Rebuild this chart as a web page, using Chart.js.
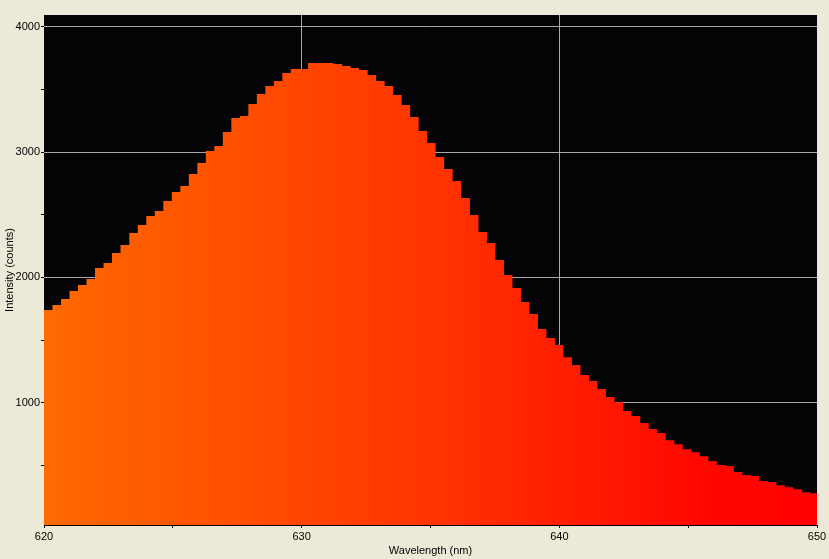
<!DOCTYPE html>
<html>
<head>
<meta charset="utf-8">
<script src="https://cdn.jsdelivr.net/npm/chart.js@4.4.1/dist/chart.umd.min.js"></script>
<style>
    html, body { margin: 0; padding: 0; background: #ece9d8; }
    canvas { display: block; }
</style>
</head>
<body>
<canvas id="spectrum" width="829" height="559"></canvas>
<script>
// Emission spectrum - bin left edges (nm) and counts per bin
const wavelengths = [
    620.00, 620.33, 620.66, 620.99, 621.32, 621.65, 621.98, 622.31, 622.64, 622.97,
    623.31, 623.64, 623.97, 624.30, 624.63, 624.96, 625.29, 625.62, 625.95, 626.28,
    626.61, 626.94, 627.27, 627.60, 627.93, 628.26, 628.59, 628.92, 629.25, 629.58,
    629.92, 630.25, 630.58, 630.91, 631.24, 631.57, 631.90, 632.23, 632.56, 632.89,
    633.22, 633.55, 633.88, 634.21, 634.54, 634.87, 635.20, 635.53, 635.86, 636.19,
    636.53, 636.86, 637.19, 637.52, 637.85, 638.18, 638.51, 638.84, 639.17, 639.50,
    639.83, 640.16, 640.49, 640.82, 641.15, 641.48, 641.81, 642.14, 642.47, 642.80,
    643.14, 643.47, 643.80, 644.13, 644.46, 644.79, 645.12, 645.45, 645.78, 646.11,
    646.44, 646.77, 647.10, 647.43, 647.76, 648.09, 648.42, 648.75, 649.08, 649.41,
    649.74
];
const lastBinEnd = 650.07;

const intensity = [
    1739, 1779, 1827, 1891, 1939, 1987, 2075, 2114, 2194, 2258,
    2354, 2418, 2489, 2529, 2609, 2681, 2729, 2825, 2912, 3008,
    3048, 3160, 3271, 3287, 3383, 3463, 3527, 3567, 3630, 3662,
    3662, 3710, 3710, 3710, 3702, 3686, 3670, 3654, 3614, 3567,
    3527, 3455, 3375, 3279, 3168, 3072, 2960, 2864, 2769, 2633,
    2497, 2362, 2274, 2138, 2019, 1915, 1803, 1708, 1588, 1516,
    1460, 1364, 1301, 1221, 1173, 1109, 1045, 1005, 934, 894,
    838, 790, 758, 702, 670, 630, 606, 574, 535, 503,
    495, 447, 423, 415, 375, 367, 343, 327, 311, 287,
    279
];

const xTicks = [620, 630, 640, 650];
const yTicks = [1000, 2000, 3000, 4000];

const FONT = { family: '"Liberation Sans", Arial, sans-serif', size: 11 };

// pontos do degrau: cada bin vai da sua borda esquerda ate a proxima
const points = wavelengths.map((w, i) => ({ x: w, y: intensity[i] }));
points.push({ x: lastBinEnd, y: intensity[intensity.length - 1] });

const plotBackground = {
    id: 'plotBackground',
    beforeDraw(chart) {
        const { ctx, chartArea: a } = chart;
        ctx.save();
        ctx.fillStyle = '#040306';
        ctx.fillRect(a.left, a.top, a.right - a.left, a.bottom - a.top);
        ctx.restore();
    }
};

function spectrumGradient(context) {
    const chart = context.chart;
    const a = chart.chartArea;
    if (!a) return '#ff4000';
    const g = chart.ctx.createLinearGradient(a.left, 0, a.right, 0);
    g.addColorStop(0, '#ff6a00');
    g.addColorStop(0.5, '#ff3400');
    g.addColorStop(0.85, '#ff0800');
    g.addColorStop(1, '#ff0000');
    return g;
}

new Chart(document.getElementById('spectrum'), {
    type: 'line',
    data: {
        datasets: [{
            data: points,
            stepped: 'before',
            fill: 'start',
            backgroundColor: spectrumGradient,
            borderWidth: 0,
            pointRadius: 0,
            tension: 0
        }]
    },
    options: {
        responsive: false,
        devicePixelRatio: 1,
        animation: false,
        layout: { padding: { top: 15, right: 12, left: 0, bottom: 0 } },
        plugins: {
            legend: { display: false },
            tooltip: { enabled: false }
        },
        scales: {
            x: {
                type: 'linear',
                min: 620,
                max: 650,
                afterFit: (s) => { s.height = 34; },
                afterBuildTicks: (s) => {
                    s.ticks = [620, 625, 630, 635, 640, 645, 650].map(v => ({ value: v }));
                },
                ticks: {
                    autoSkip: false,
                    maxRotation: 0,
                    padding: 2,
                    color: '#000',
                    font: FONT,
                    callback: (v) => xTicks.includes(v) ? String(v) : ''
                },
                grid: {
                    color: (c) => (c.tick && (c.tick.value === 630 || c.tick.value === 640)) ? '#a8a8a8' : 'rgba(0,0,0,0)',
                    tickColor: '#000',
                    tickLength: 3,
                    lineWidth: 1
                },
                border: { display: true, color: '#000', width: 1 },
                title: {
                    display: true,
                    text: 'Wavelength (nm)',
                    color: '#000',
                    font: FONT,
                    padding: { top: 0, bottom: 1 }
                }
            },
            y: {
                type: 'linear',
                min: 25,
                max: 4093,
                afterFit: (s) => { s.width = 44; },
                afterBuildTicks: (s) => {
                    s.ticks = [500, 1000, 1500, 2000, 2500, 3000, 3500, 4000].map(v => ({ value: v }));
                },
                ticks: {
                    autoSkip: false,
                    padding: 1,
                    color: '#000',
                    font: FONT,
                    callback: (v) => yTicks.includes(v) ? String(v) : ''
                },
                grid: {
                    color: (c) => (c.tick && yTicks.includes(c.tick.value)) ? '#a8a8a8' : 'rgba(0,0,0,0)',
                    tickColor: '#000',
                    tickLength: 3,
                    lineWidth: 1
                },
                border: { display: false },
                title: {
                    display: true,
                    text: 'Intensity (counts)',
                    color: '#000',
                    font: FONT,
                    padding: { top: 3, bottom: 0 }
                }
            }
        }
    },
    plugins: [plotBackground]
});
</script>
</body>
</html>
